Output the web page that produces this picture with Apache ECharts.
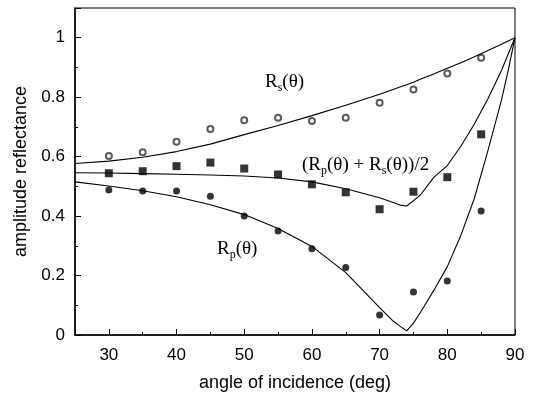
<!DOCTYPE html>
<html>
<head>
<meta charset="utf-8">
<script src="https://cdn.jsdelivr.net/npm/echarts@6/dist/echarts.min.js"></script>
<style>
  html, body { margin: 0; padding: 0; background: #fff; }
  #chart { width: 534px; height: 397px; }
</style>
</head>
<body>
<div id="chart"></div>
<script>
// theory curves
const thetaFit = [25, 30, 35, 40, 45, 50, 55, 60, 65, 70, 72, 73, 74, 75, 76, 78, 80, 82, 84, 86, 88, 89, 90]
const rsFit = [0.577, 0.585, 0.598, 0.617, 0.642, 0.674, 0.705, 0.738, 0.773, 0.81, 0.826, 0.834, 0.842, 0.85, 0.86, 0.878, 0.897, 0.916, 0.936, 0.957, 0.978, 0.989, 1.0]
const rpFit = [0.515, 0.501, 0.485, 0.465, 0.438, 0.405, 0.358, 0.298, 0.21, 0.092, 0.047, 0.03, 0.014, 0.04, 0.075, 0.15, 0.23, 0.335, 0.46, 0.62, 0.79, 0.89, 1.0]
const avgFit = [0.546, 0.545, 0.543, 0.541, 0.538, 0.535, 0.528, 0.515, 0.492, 0.462, 0.446, 0.437, 0.434, 0.452, 0.47, 0.53, 0.57, 0.635, 0.71, 0.795, 0.89, 0.945, 1.0]

// measured points
const thetaMeas = [30, 35, 40, 45, 50, 55, 60, 65, 70, 75, 80, 85]
const rsMeas = [0.602, 0.615, 0.65, 0.693, 0.722, 0.731, 0.72, 0.731, 0.781, 0.826, 0.88, 0.933]
const avgMeas = [0.544, 0.551, 0.568, 0.58, 0.56, 0.54, 0.507, 0.48, 0.423, 0.482, 0.531, 0.675]
const rpMeas = [0.488, 0.484, 0.484, 0.467, 0.40, 0.35, 0.29, 0.227, 0.067, 0.145, 0.182, 0.417]

const pairs = (xs, ys) => xs.map((x, i) => [x, ys[i]])

const chart = echarts.init(document.getElementById('chart'))

const lineStyle = { color: '#000', width: 1.1 }
const axisFont = { fontFamily: 'Liberation Sans, Arial, sans-serif', fontSize: 17, color: '#000' }
const serif = 'Liberation Serif, Times New Roman, serif'
const rich = {
  m: { fontFamily: serif, fontSize: 19, color: '#000' },
  sub: { fontFamily: serif, fontSize: 12, color: '#000', padding: [10, 0, 0, 0] }
}

chart.setOption({
  animation: false,
  grid: {
    left: 75,
    right: 19,
    top: 8,
    bottom: 61,
    show: true,
    borderColor: '#000',
    borderWidth: 1
  },
  xAxis: {
    type: 'value',
    min: 25,
    max: 90,
    name: 'angle of incidence (deg)',
    nameLocation: 'middle',
    nameGap: 39,
    nameTextStyle: { fontFamily: axisFont.fontFamily, fontSize: 18, color: '#000' },
    axisLine: { lineStyle: { color: '#000', width: 1.5 } },
    axisTick: { inside: true, length: 6, lineStyle: { color: '#000' } },
    minorTick: { show: true, splitNumber: 2, length: 3, lineStyle: { color: '#000' } },
    axisLabel: Object.assign({ margin: 12, showMinLabel: false }, axisFont),
    splitLine: { show: false }
  },
  yAxis: {
    type: 'value',
    min: 0,
    max: 1.1,
    interval: 0.2,
    name: 'amplitude reflectance',
    nameLocation: 'middle',
    nameGap: 38,
    nameTextStyle: { fontFamily: axisFont.fontFamily, fontSize: 18, color: '#000' },
    axisLine: { lineStyle: { color: '#000', width: 1.5 } },
    axisTick: { inside: true, length: 6, lineStyle: { color: '#000' } },
    minorTick: { show: true, splitNumber: 2, length: 3, lineStyle: { color: '#000' } },
    axisLabel: Object.assign({ margin: 10, showMaxLabel: false }, axisFont),
    splitLine: { show: false }
  },
  series: [
    { type: 'line', data: pairs(thetaFit, rsFit), symbol: 'none', lineStyle },
    { type: 'line', data: pairs(thetaFit, avgFit), symbol: 'none', lineStyle },
    { type: 'line', data: pairs(thetaFit, rpFit), symbol: 'none', lineStyle },
    {
      type: 'scatter', data: pairs(thetaMeas, rsMeas), symbol: 'emptyCircle', symbolSize: 6,
      itemStyle: { color: '#333', borderColor: '#333', borderWidth: 0.8 }
    },
    {
      type: 'scatter', data: pairs(thetaMeas, avgMeas), symbol: 'rect', symbolSize: 8,
      itemStyle: { color: '#000' }
    },
    {
      type: 'scatter', data: pairs(thetaMeas, rpMeas), symbol: 'circle', symbolSize: 7,
      itemStyle: { color: '#000' }
    }
  ],
  graphic: [
    {
      type: 'text', left: 265, top: 73,
      style: { text: '{m|R}{sub|s}{m|(θ)}', rich }
    },
    {
      type: 'text', left: 302, top: 156,
      style: { text: '{m|(R}{sub|p}{m|(θ) + R}{sub|s}{m|(θ))/2}', rich }
    },
    {
      type: 'text', left: 217, top: 240,
      style: { text: '{m|R}{sub|p}{m|(θ)}', rich }
    }
  ]
})
</script>
</body>
</html>
